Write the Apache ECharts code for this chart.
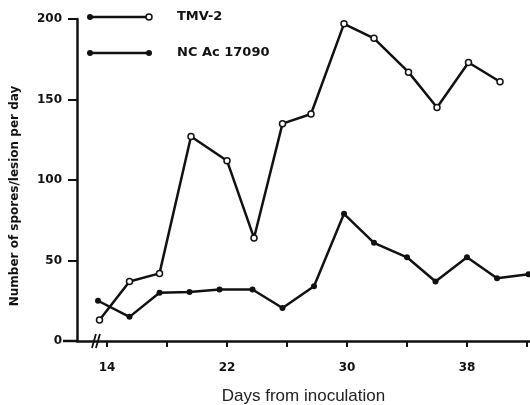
<!DOCTYPE html>
<html><head><meta charset="utf-8">
<script src="https://cdn.jsdelivr.net/npm/echarts@6/dist/echarts.min.js"></script>
<style>html,body{margin:0;padding:0;background:#fff}#c{width:530px;height:405px}</style>
</head><body><div id="c"></div>
<script>
const tmvDays = [13.5, 15.5, 17.5, 19.6, 22, 23.8, 25.7, 27.6, 29.8, 31.8, 34.1, 36, 38.1, 40.2];
const tmvValues = [13, 37, 42, 127, 112, 64, 135, 141, 197, 188, 167, 145, 173, 161];
const ncDays = [13.4, 15.5, 17.5, 19.5, 21.5, 23.7, 25.7, 27.8, 29.8, 31.8, 34, 35.9, 38, 40, 42.1];
const ncValues = [25, 15, 30, 30.5, 32, 32, 20.5, 34, 79, 61, 52, 37, 52, 39, 41.5];
const xTicks = [14, 18, 22, 26, 30, 34, 38, 42];
const xLabels = [14, 22, 30, 38];
const yTicks = [0, 50, 100, 150, 200];
const seriesNames = ['TMV-2', 'NC Ac 17090'];

const ink = '#111';
const chart = echarts.init(document.getElementById('c'));
const pair = (xs, ys) => xs.map((x, i) => [x, ys[i]]);
chart.setOption({
  animation: false,
  grid: {left: 77, top: 19, width: 453, height: 322, containLabel: false, outerBoundsMode: 'none'},
  xAxis: {
    type: 'value', min: 12, max: 42.2,
    name: 'Days from inoculation', nameLocation: 'middle', nameGap: 47,
    nameTextStyle: {fontFamily: 'Liberation Sans', fontSize: 17, color: '#222'},
    axisLine: {lineStyle: {color: ink, width: 2.5}},
    axisTick: {customValues: xTicks, length: 6, inside: false, lineStyle: {color: ink, width: 2}},
    axisLabel: {customValues: xLabels, margin: 21, fontFamily: 'DejaVu Sans', fontWeight: 'bold', fontSize: 12, color: ink},
    splitLine: {show: false}
  },
  yAxis: {
    type: 'value', min: 0, max: 200, interval: 50,
    name: 'Number of spores/lesion per day', nameLocation: 'middle', nameGap: 56, nameRotate: 90,
    nameTextStyle: {fontFamily: 'DejaVu Sans', fontWeight: 'bold', fontSize: 12, color: ink, padding: [0, 32, 0, 0]},
    axisLine: {show: true, lineStyle: {color: ink, width: 2.5}},
    axisTick: {show: true, length: 9, lineStyle: {color: ink, width: 2}},
    axisLabel: {customValues: yTicks, margin: 15, fontFamily: 'DejaVu Sans', fontWeight: 'bold', fontSize: 12, color: ink},
    splitLine: {show: false}
  },
  series: [
    {name: seriesNames[1], type: 'line', data: pair(ncDays, ncValues), symbol: 'circle', symbolSize: 6,
     itemStyle: {color: ink}, lineStyle: {color: ink, width: 2.5}, z: 2, clip: false},
    {name: seriesNames[0], type: 'line', data: pair(tmvDays, tmvValues), symbol: 'circle', symbolSize: 6,
     itemStyle: {color: '#fff', borderColor: ink, borderWidth: 1.5}, lineStyle: {color: ink, width: 2.5}, z: 3}
  ]
});

// legend and axis-break decoration
const p = chart.convertToPixel({gridIndex: 0}, [13.33, 0]);
const legendItem = (y, name, openEnd) => ({
  type: 'group', children: [
    {type: 'line', shape: {x1: 90, y1: y, x2: 149, y2: y}, style: {stroke: ink, lineWidth: 2.5}},
    {type: 'circle', shape: {cx: 90, cy: y, r: 3}, style: {fill: ink}},
    {type: 'circle', shape: {cx: 149, cy: y, r: 3}, style: openEnd ? {fill: '#fff', stroke: ink, lineWidth: 1.5} : {fill: ink}},
    {type: 'text', x: 177, y: y, style: {text: name, fontFamily: 'DejaVu Sans', fontWeight: 'bold', fontSize: 13, fill: ink, verticalAlign: 'middle'}}
  ]
});
chart.setOption({graphic: [
  legendItem(17, seriesNames[0], true),
  legendItem(53, seriesNames[1], false),
  {type: 'group', z: 10, children: [
    {type: 'rect', shape: {x: p[0] - 2, y: p[1] - 3, width: 3, height: 6}, style: {fill: '#fff'}},
    {type: 'line', shape: {x1: p[0] - 5, y1: p[1] + 7, x2: p[0] - 1, y2: p[1] - 7}, style: {stroke: ink, lineWidth: 1.8}},
    {type: 'line', shape: {x1: p[0] - 1, y1: p[1] + 7, x2: p[0] + 3, y2: p[1] - 7}, style: {stroke: ink, lineWidth: 1.8}}
  ]},
  {type: 'line', shape: {x1: 63, y1: p[1], x2: 77, y2: p[1]}, style: {stroke: ink, lineWidth: 2.5}}
]});
</script></body></html>
